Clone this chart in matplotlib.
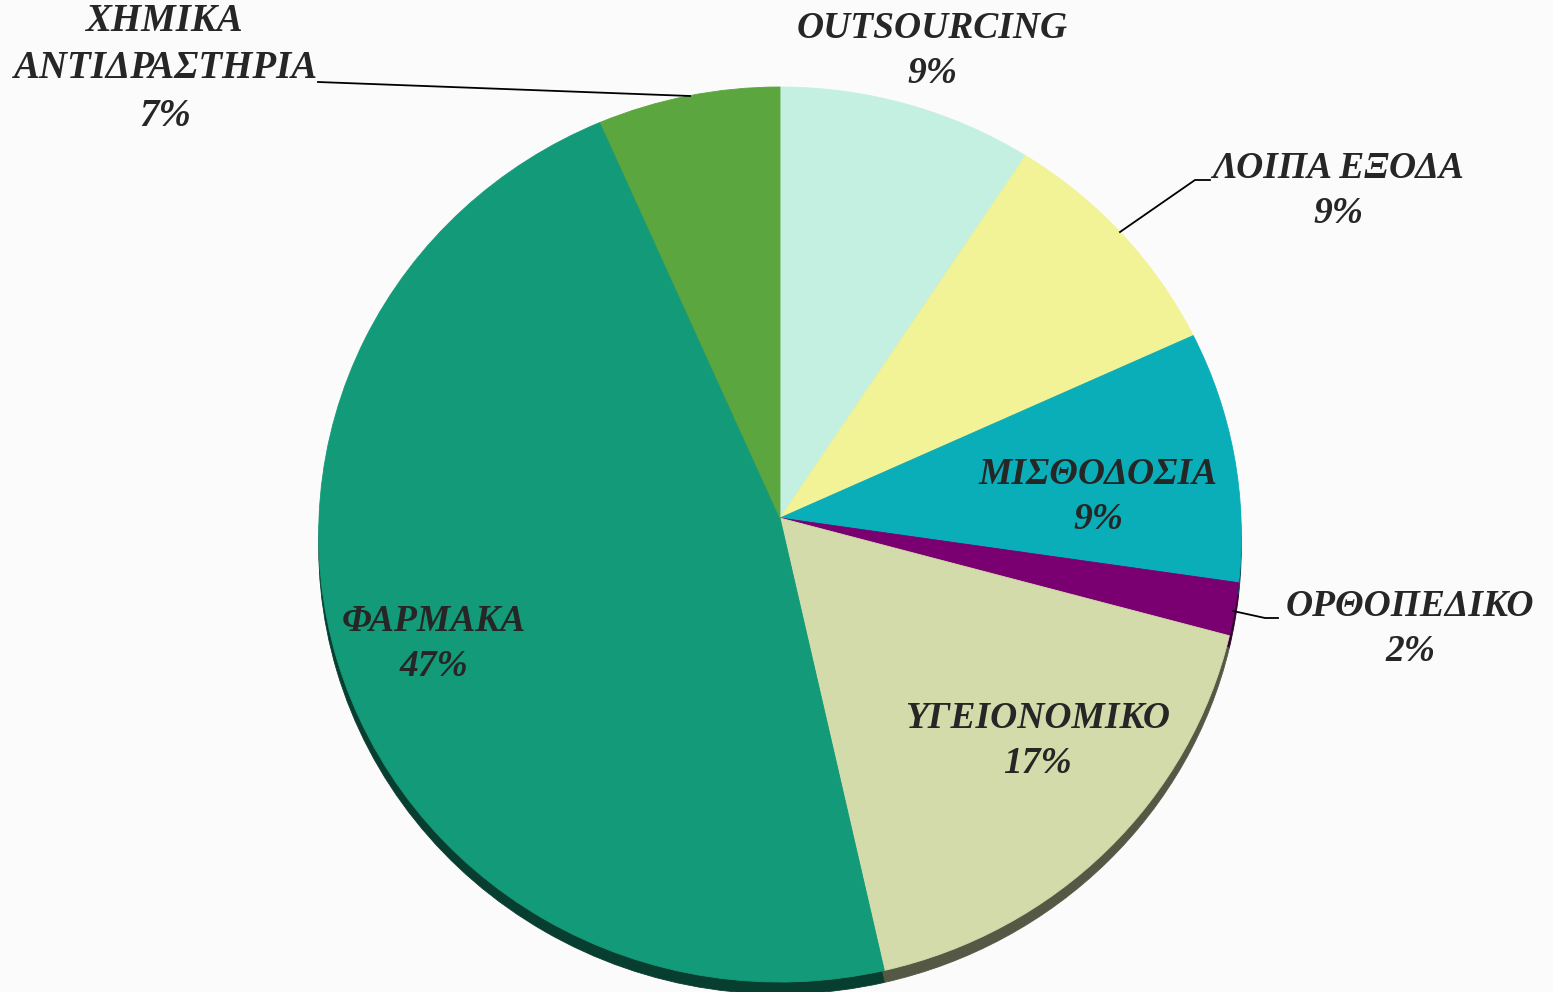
import numpy as np
import matplotlib.pyplot as plt
from matplotlib.colors import to_rgb
from matplotlib.transforms import Transform, Affine2D

# data (clockwise from 12 o'clock)
categories = ['OUTSOURCING', 'ΛΟΙΠΑ ΕΞΟΔΑ', 'ΜΙΣΘΟΔΟΣΙΑ', 'ΟΡΘΟΠΕΔΙΚΟ',
              'ΥΓΕΙΟΝΟΜΙΚΟ', 'ΦΑΡΜΑΚΑ', 'ΧΗΜΙΚΑ\nΑΝΤΙΔΡΑΣΤΗΡΙΑ']
values = [9.25, 8.95, 9.1, 1.9, 17.3, 46.9, 6.6]
colors = ['#c4f0e2', '#f2f296', '#0aaeb8', '#7a0072', '#d3dbaa', '#139a78', '#5ba63e']

# label centres in pixel coords (x, y from top)
label_pos = [(932, 51), (1338, 191), (1098, 497), (1410, 629),
             (1038, 741), (434, 644), (165, 69)]

W, H = 1553, 992
cx, cy = 780, 518      # apex of the pie in pixels
R = 461                # horizontal radius at apex level
tilt = np.radians(14.2)
depth = 6.65           # camera distance in pie radii


class Tilt(Transform):
    """Project a unit disc tilted away from the viewer."""
    input_dims = output_dims = 2

    def transform_non_affine(self, pts):
        pts = np.asarray(pts, dtype=float)
        u, v = pts[:, 0], pts[:, 1]
        z = depth + v * np.sin(tilt)
        f = R * depth
        return np.column_stack([f * u / z, f * v * np.cos(tilt) / z])


fig = plt.figure(figsize=(W / 100, H / 100), dpi=100)
fig.patch.set_facecolor('#fbfbfb')
ax = fig.add_axes([0, 0, 1, 1])
ax.set_facecolor('#fbfbfb')


def draw_pie(cols, dy):
    wedges, _ = ax.pie(values, colors=cols, startangle=90, counterclock=False,
                       radius=1, frame=True,
                       wedgeprops=dict(linewidth=0.6, antialiased=True))
    tr = Tilt() + Affine2D().translate(cx, H - cy - dy) + ax.transData
    for w, col in zip(wedges, cols):
        w.set_edgecolor(col)
        w.set_transform(tr)


# side wall / shadow first, then the face
dark = [tuple(ch * 0.4 for ch in to_rgb(c)) for c in colors]
draw_pie(dark, 12)
draw_pie(colors, 0)

ax.set_xlim(0, W)
ax.set_ylim(0, H)
ax.set_aspect('auto')
ax.axis('off')

total = sum(values)
font = dict(family='Liberation Serif', weight='bold', style='italic',
            color='#262626', ha='center', va='center')
for cat, v, (x, y) in zip(categories, values, label_pos):
    pct = f'{round(v / total * 100)}%'
    size = 28 if '\n' in cat else 27
    ax.text(x, H - y, f'{cat}\n{pct}', fontsize=size, linespacing=1.38, **font)


# leader lines
def leader(pts):
    xs = [p[0] for p in pts]
    ys = [H - p[1] for p in pts]
    ax.plot(xs, ys, color='black', lw=1.3)


leader([(318, 82), (690, 96)])
leader([(1120, 232), (1195, 180), (1210, 180)])
leader([(1233, 611), (1265, 618), (1278, 618)])

fig.savefig('out.png', dpi=100, facecolor=fig.get_facecolor())
